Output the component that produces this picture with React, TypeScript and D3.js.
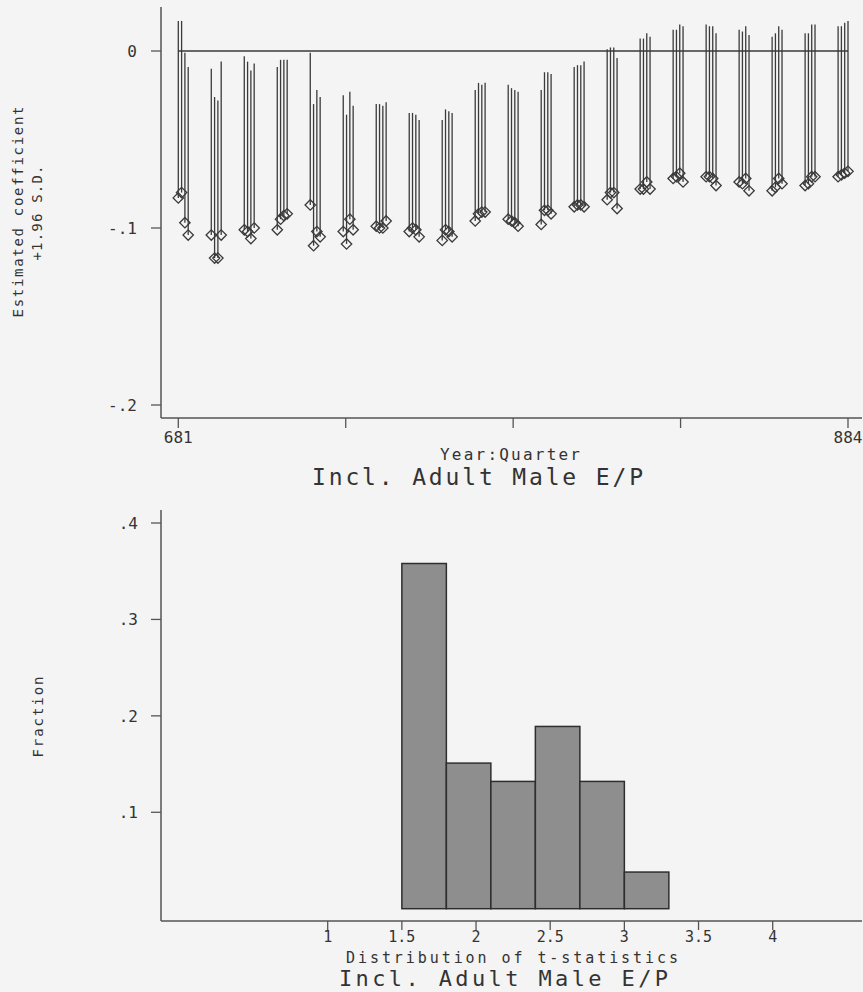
import React from "react";
import * as d3 from "d3";

// ---------- Top panel data (year:quarter coded as YYQ) ----------
const quarters = [
  681, 682, 683, 684, 691, 692, 693, 694, 701, 702, 703, 704,
  711, 712, 713, 714, 721, 722, 723, 724, 731, 732, 733, 734,
  741, 742, 743, 744, 751, 752, 753, 754, 761, 762, 763, 764,
  771, 772, 773, 774, 781, 782, 783, 784, 791, 792, 793, 794,
  801, 802, 803, 804, 811, 812, 813, 814, 821, 822, 823, 824,
  831, 832, 833, 834, 841, 842, 843, 844, 851, 852, 853, 854,
  861, 862, 863, 864, 871, 872, 873, 874, 881, 882, 883, 884,
];

const coefficients = [
  -0.083, -0.080, -0.097, -0.104, -0.104, -0.117, -0.117, -0.104,
  -0.101, -0.102, -0.106, -0.100, -0.101, -0.095, -0.093, -0.092,
  -0.087, -0.110, -0.102, -0.105, -0.102, -0.109, -0.095, -0.101,
  -0.099, -0.100, -0.100, -0.096, -0.102, -0.100, -0.101, -0.105,
  -0.107, -0.101, -0.102, -0.105, -0.096, -0.092, -0.091, -0.091,
  -0.095, -0.096, -0.097, -0.099, -0.098, -0.090, -0.090, -0.092,
  -0.088, -0.087, -0.087, -0.088, -0.084, -0.080, -0.080, -0.089,
  -0.078, -0.078, -0.074, -0.078, -0.072, -0.071, -0.069, -0.074,
  -0.071, -0.071, -0.072, -0.076, -0.074, -0.075, -0.072, -0.079,
  -0.079, -0.077, -0.072, -0.075, -0.076, -0.075, -0.071, -0.071,
  -0.071, -0.070, -0.069, -0.068,
];

const upperBounds = [
  0.017, 0.017, -0.001, -0.009, -0.010, -0.026, -0.028, -0.006,
  -0.003, -0.006, -0.011, -0.007, -0.009, -0.005, -0.005, -0.005,
  -0.001, -0.030, -0.022, -0.026, -0.025, -0.036, -0.023, -0.031,
  -0.030, -0.030, -0.031, -0.029, -0.035, -0.035, -0.036, -0.039,
  -0.039, -0.033, -0.034, -0.035, -0.022, -0.018, -0.019, -0.018,
  -0.019, -0.021, -0.022, -0.023, -0.022, -0.012, -0.012, -0.013,
  -0.009, -0.008, -0.008, -0.006, 0.001, 0.002, 0.002, -0.004,
  0.007, 0.007, 0.010, 0.008, 0.012, 0.012, 0.015, 0.014,
  0.015, 0.014, 0.014, 0.010, 0.012, 0.011, 0.014, 0.009,
  0.008, 0.010, 0.014, 0.012, 0.010, 0.010, 0.015, 0.015,
  0.014, 0.014, 0.016, 0.017,
];

const topYTicks = [0, -0.1, -0.2];
const topYTickLabels = ["0", "-.1", "-.2"];
const topXTickLabels = ["681", "", "", "", "884"];

// ---------- Bottom panel data (histogram of t-statistics) ----------
const binEdges = [1.5, 1.8, 2.1, 2.4, 2.7, 3.0, 3.3];
const fractions = [0.358, 0.151, 0.132, 0.189, 0.132, 0.038];
const bottomYTicks = [0.1, 0.2, 0.3, 0.4];
const bottomYTickLabels = [".1", ".2", ".3", ".4"];
const bottomXTicks = [1, 1.5, 2, 2.5, 3, 3.5, 4];
const bottomXTickLabels = ["1", "1.5", "2", "2.5", "3", "3.5", "4"];

const FONT = "'DejaVu Sans Mono', 'Liberation Mono', monospace";
const INK = "#3a3a3a";
const AXIS = "#555";
const TEXT = "#333";

export default function App() {
  // Top panel layout
  const axisX = 161;
  const topAxisTop = 7;
  const topAxisBottom = 418;
  const axisRight = 862;

  const xTop = d3.scaleLinear().domain([681, 884]).range([178.3, 848]);
  const yTop = d3.scaleLinear().domain([-0.2, 0]).range([405, 51]);
  const topXTickVals = d3.range(5).map((i) => 681 + (i * (884 - 681)) / 4);

  // Bottom panel layout
  const botAxisTop = 510;
  const botAxisBottom = 921;
  const xBot = d3.scaleLinear().domain([1, 4]).range([327.7, 772.7]);
  const yBot = d3.scaleLinear().domain([0, 0.4]).range([908.7, 523]);

  const diamond = "M0,-5.2L5.2,0L0,5.2L-5.2,0Z";

  const bins = fractions.map((f, i) => ({ x0: binEdges[i], x1: binEdges[i + 1], f }));

  return (
    <svg
      width={863}
      height={992}
      style={{ position: "absolute", left: 0, top: 0, background: "#f4f4f4" }}
      fontFamily={FONT}
    >
      <rect x={0} y={0} width={863} height={992} fill="#f4f4f4" />

      {/* ================= TOP PANEL ================= */}
      <line x1={axisX} y1={topAxisTop} x2={axisX} y2={topAxisBottom} stroke={AXIS} strokeWidth={1.5} />
      <line x1={axisX} y1={topAxisBottom} x2={axisRight} y2={topAxisBottom} stroke={AXIS} strokeWidth={1.5} />
      {topYTicks.map((t, i) => (
        <g key={"ty" + i}>
          <line x1={axisX - 10} x2={axisX} y1={yTop(t)} y2={yTop(t)} stroke={AXIS} strokeWidth={1.3} />
          <text x={137} y={yTop(t) + 6} textAnchor="end" fontSize={16} fill={TEXT}>
            {topYTickLabels[i]}
          </text>
        </g>
      ))}
      {topXTickVals.map((t, i) => (
        <g key={"tx" + i}>
          <line x1={xTop(t)} x2={xTop(t)} y1={topAxisBottom} y2={topAxisBottom + 10} stroke={AXIS} strokeWidth={1.3} />
          {topXTickLabels[i] && (
            <text x={xTop(t)} y={443} textAnchor="middle" fontSize={16} fill={TEXT}>
              {topXTickLabels[i]}
            </text>
          )}
        </g>
      ))}

      {/* error lines */}
      {quarters.map((q, i) => (
        <line
          key={"el" + i}
          x1={xTop(q)}
          x2={xTop(q)}
          y1={yTop(upperBounds[i])}
          y2={yTop(coefficients[i])}
          stroke={INK}
          strokeWidth={1.3}
        />
      ))}
      {/* zero line */}
      <line
        x1={xTop(quarters[0])}
        x2={xTop(quarters[quarters.length - 1])}
        y1={yTop(0)}
        y2={yTop(0)}
        stroke={INK}
        strokeWidth={1.5}
      />
      {/* diamonds */}
      {quarters.map((q, i) => (
        <path
          key={"dm" + i}
          d={diamond}
          transform={`translate(${xTop(q)},${yTop(coefficients[i])})`}
          fill="none"
          stroke={INK}
          strokeWidth={1.3}
        />
      ))}

      {/* titles */}
      <text
        transform="translate(23,212) rotate(-90)"
        textAnchor="middle"
        fontSize={14}
        fill={TEXT}
        textLength={211}
        lengthAdjust="spacing"
      >
        Estimated coefficient
      </text>
      <text
        transform="translate(42,213) rotate(-90)"
        textAnchor="middle"
        fontSize={14}
        fill={TEXT}
        textLength={95}
        lengthAdjust="spacing"
      >
        +1.96 S.D.
      </text>
      <text x={510} y={460} textAnchor="middle" fontSize={16} fill={TEXT} textLength={140} lengthAdjust="spacing">
        Year:Quarter
      </text>
      <text x={477.5} y={485} textAnchor="middle" fontSize={23} fill={TEXT} textLength={331} lengthAdjust="spacing">
        Incl. Adult Male E/P
      </text>

      {/* ================= BOTTOM PANEL ================= */}
      <line x1={axisX} y1={botAxisTop} x2={axisX} y2={botAxisBottom} stroke={AXIS} strokeWidth={1.5} />
      <line x1={axisX} y1={botAxisBottom} x2={axisRight} y2={botAxisBottom} stroke={AXIS} strokeWidth={1.5} />
      {bottomYTicks.map((t, i) => (
        <g key={"by" + i}>
          <line x1={axisX - 10} x2={axisX} y1={yBot(t)} y2={yBot(t)} stroke={AXIS} strokeWidth={1.3} />
          <text x={138} y={yBot(t) + 6} textAnchor="end" fontSize={16} fill={TEXT}>
            {bottomYTickLabels[i]}
          </text>
        </g>
      ))}
      {bottomXTicks.map((t, i) => (
        <g key={"bx" + i}>
          <line x1={xBot(t)} x2={xBot(t)} y1={botAxisBottom} y2={botAxisBottom + 9} stroke={AXIS} strokeWidth={1.3} />
          <text x={xBot(t)} y={942} textAnchor="middle" fontSize={15} fill={TEXT}>
            {bottomXTickLabels[i]}
          </text>
        </g>
      ))}

      {bins.map((b, i) => (
        <rect
          key={"bar" + i}
          x={xBot(b.x0)}
          y={yBot(b.f)}
          width={xBot(b.x1) - xBot(b.x0)}
          height={yBot(0) - yBot(b.f)}
          fill="#8e8e8e"
          stroke="#2e2e2e"
          strokeWidth={1.5}
        />
      ))}

      <text
        transform="translate(43,717) rotate(-90)"
        textAnchor="middle"
        fontSize={14}
        fill={TEXT}
        textLength={81}
        lengthAdjust="spacing"
      >
        Fraction
      </text>
      <text x={512} y={963} textAnchor="middle" fontSize={15} fill={TEXT} textLength={332} lengthAdjust="spacing">
        Distribution of t-statistics
      </text>
      <text x={503.5} y={986} textAnchor="middle" fontSize={22} fill={TEXT} textLength={329} lengthAdjust="spacing">
        Incl. Adult Male E/P
      </text>
    </svg>
  );
}
